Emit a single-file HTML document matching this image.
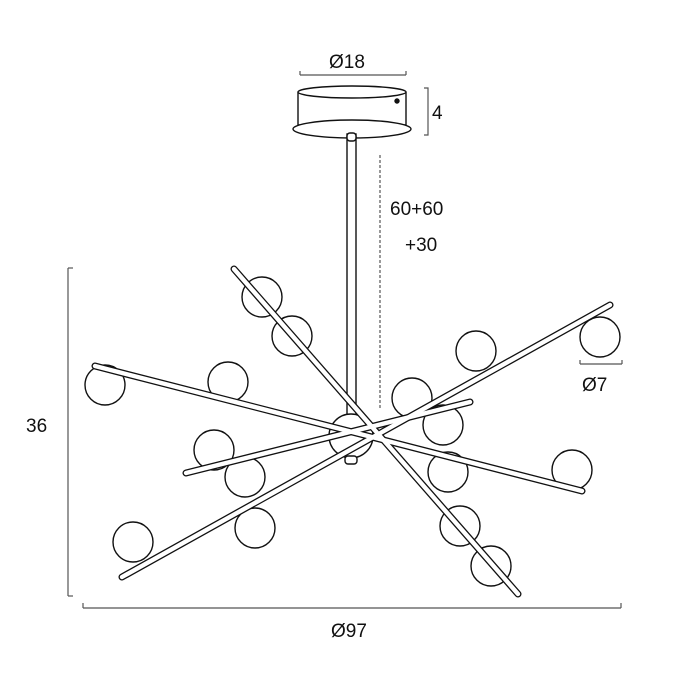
<!DOCTYPE html>
<html><head><style>html,body{margin:0;padding:0;background:#fff}svg{display:block}text{font-family:"Liberation Sans",sans-serif;fill:#111}</style></head>
<body>
<svg width="700" height="700" viewBox="0 0 700 700" xmlns="http://www.w3.org/2000/svg">
<g stroke="#555" stroke-width="1.2" fill="none">
<line x1="300" y1="75" x2="406" y2="75"/><line x1="300" y1="71" x2="300" y2="75"/><line x1="406" y1="71" x2="406" y2="75"/>
<polyline points="424,88 428,88 428,135 424,135"/>
<line x1="68" y1="268" x2="68" y2="596"/><line x1="68" y1="268" x2="73" y2="268"/><line x1="68" y1="596" x2="73" y2="596"/>
<line x1="83" y1="608" x2="621" y2="608"/><line x1="83" y1="603" x2="83" y2="608"/><line x1="621" y1="603" x2="621" y2="608"/>
<line x1="580" y1="364" x2="622" y2="364"/><line x1="580" y1="360" x2="580" y2="364"/><line x1="622" y1="360" x2="622" y2="364"/>
<line x1="380" y1="155" x2="380" y2="408" stroke-dasharray="3,2"/>
</g>
<text x="329" y="68" font-size="19">Ø18</text>
<text x="432" y="119" font-size="19">4</text>
<text x="390" y="215" font-size="19">60+60</text>
<text x="405" y="251" font-size="19">+30</text>
<text x="26" y="432" font-size="19">36</text>
<text x="331" y="637" font-size="19">Ø97</text>
<text x="582" y="391" font-size="19">Ø7</text>
<g stroke="#111" stroke-width="1.4" fill="#fff">
<path d="M298,92 L298,125 L406,125 L406,92"/>
<ellipse cx="352" cy="92" rx="54" ry="6"/>
<ellipse cx="352" cy="129" rx="59" ry="9"/>
<circle cx="397" cy="101" r="2" fill="#111"/>
<rect x="347" y="134" width="9" height="282"/>
<rect x="347" y="133" width="9" height="8" rx="3"/>
<circle cx="351" cy="436" r="22"/>
<rect x="345" y="456" width="12" height="8" rx="3"/>
</g>
<g stroke="#111" stroke-width="1.4" fill="none">
<circle cx="262" cy="297" r="20"/><circle cx="292" cy="336" r="20"/><circle cx="105" cy="385" r="20"/>
<circle cx="228" cy="382" r="20"/><circle cx="214" cy="450" r="20"/><circle cx="245" cy="477" r="20"/>
<circle cx="133" cy="542" r="20"/><circle cx="255" cy="528" r="20"/><circle cx="476" cy="351" r="20"/>
<circle cx="600" cy="337" r="20"/><circle cx="412" cy="398" r="20"/><circle cx="443" cy="425" r="20"/>
<circle cx="448" cy="472" r="20"/><circle cx="572" cy="470" r="20"/><circle cx="460" cy="526" r="20"/>
<circle cx="491" cy="566" r="20"/>
</g>
<g stroke-linecap="round">
<g stroke="#111" stroke-width="7">
<line x1="186" y1="473" x2="470" y2="402"/>
<line x1="122" y1="577" x2="610" y2="305"/>
<line x1="95" y1="366" x2="582" y2="491"/>
<line x1="234" y1="269" x2="518" y2="594"/>
</g>
<g stroke="#fff" stroke-width="4.4">
<line x1="186" y1="473" x2="470" y2="402"/>
<line x1="122" y1="577" x2="610" y2="305"/>
<line x1="95" y1="366" x2="582" y2="491"/>
<line x1="234" y1="269" x2="518" y2="594"/>
</g>
</g>
</svg>
</body></html>
